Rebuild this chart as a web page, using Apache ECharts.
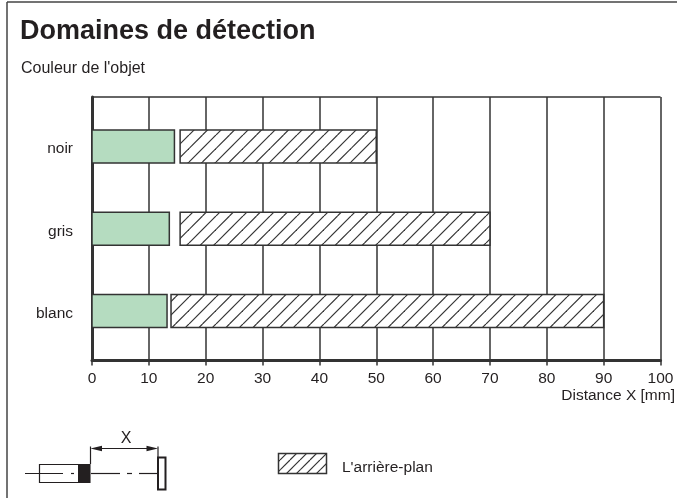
<!DOCTYPE html>
<html>
<head>
<meta charset="utf-8">
<script src="https://cdn.jsdelivr.net/npm/echarts@6/dist/echarts.min.js"></script>
<style>
  html, body { margin: 0; padding: 0; background: #fff; }
  #main { width: 677px; height: 498px; }
</style>
</head>
<body>
<div id="main"></div>
<script>
// data
const categories = ['blanc', 'gris', 'noir'];
const greenEnd = [13.2, 13.6, 14.5];
const hatchStart = [13.9, 15.5, 15.5];
const hatchEnd = [90, 70, 50];

const LINE = '#333333';
const TEXT = '#231f20';
const GREEN = '#b5dcc0';
const FONT = '"Liberation Sans", Arial, sans-serif';

// diagonal hatch tile, two lines per tile so half pixel spacings work
function hatchTile(step) {
  const size = step * 2;
  const c = document.createElement('canvas');
  c.width = size;
  c.height = size;
  const g = c.getContext('2d');
  g.fillStyle = '#fff';
  g.fillRect(0, 0, size, size);
  g.strokeStyle = LINE;
  g.lineWidth = 1.2;
  for (let k = -size; k <= size * 2; k += step) {
    g.beginPath();
    g.moveTo(k, size);
    g.lineTo(k + size, 0);
    g.stroke();
  }
  return { image: c, repeat: 'repeat' };
}
const hatch = hatchTile(13.5);
const hatchSmall = hatchTile(10);

function barItem(start, end, row, fill, api) {
  const a = api.coord([start, row]);
  const b = api.coord([end, row]);
  const h = 33;
  return {
    type: 'rect',
    shape: { x: a[0], y: a[1] - h / 2, width: b[0] - a[0], height: h },
    style: { fill: fill, stroke: LINE, lineWidth: 1.5 }
  };
}

const myChart = echarts.init(document.getElementById('main'), null, { renderer: 'canvas' });

const line = (x1, y1, x2, y2, w) => ({
  type: 'line',
  shape: { x1, y1, x2, y2 },
  style: { stroke: TEXT, lineWidth: w || 1.2 }
});
const label = (x, y, text, size, weight, align) => ({
  type: 'text',
  x, y,
  style: {
    text, fill: TEXT, font: (weight || 'normal') + ' ' + size + 'px ' + FONT,
    align: align || 'left', verticalAlign: 'middle'
  }
});

myChart.setOption({
  animation: false,
  backgroundColor: '#fff',
  grid: { left: 92, right: 16.5, top: 97, bottom: 137.5 },
  xAxis: {
    type: 'value',
    min: 0,
    max: 100,
    interval: 10,
    axisLine: { show: true, onZero: false, lineStyle: { color: LINE, width: 3 } },
    axisTick: { show: true, length: 5, lineStyle: { color: LINE, width: 1.5 } },
    axisLabel: { color: TEXT, fontSize: 15.5, fontFamily: FONT, margin: 10 },
    splitLine: { show: true, lineStyle: { color: LINE, width: 1.5 } }
  },
  yAxis: {
    type: 'value',
    min: -0.6,
    max: 2.6,
    axisLine: { show: true, onZero: false, lineStyle: { color: LINE, width: 3 } },
    axisTick: { show: false },
    splitLine: { show: false },
    axisLabel: {
      color: TEXT, fontSize: 15.5, fontFamily: FONT, margin: 19,
      // labels sit a little under the bar centres in the original
      customValues: categories.map((c, i) => i - 0.03),
      formatter: v => categories[Math.round(v)]
    }
  },
  series: [
    {
      // top edge of the plot
      type: 'custom',
      silent: true,
      data: [[0, 2.6, 100]],
      encode: { x: [0, 2], y: 1 },
      renderItem(params, api) {
        const a = api.coord([api.value(0), api.value(1)]);
        const b = api.coord([api.value(2), api.value(1)]);
        return { type: 'line', shape: { x1: a[0], y1: a[1], x2: b[0], y2: b[1] }, style: { stroke: LINE, lineWidth: 1.5 } };
      }
    },
    {
      name: 'detection',
      type: 'custom',
      silent: true,
      data: categories.map((c, i) => [i, greenEnd[i]]),
      encode: { x: 1, y: 0 },
      renderItem: (params, api) => barItem(0, api.value(1), api.value(0), GREEN, api)
    },
    {
      name: 'arriere-plan',
      type: 'custom',
      silent: true,
      data: categories.map((c, i) => [i, hatchStart[i], hatchEnd[i]]),
      encode: { x: [1, 2], y: 0 },
      renderItem: (params, api) => barItem(api.value(1), api.value(2), api.value(0), hatch, api)
    }
  ],
  graphic: [
    // frame, only top and left in the original
    { type: 'line', shape: { x1: 7, y1: 2, x2: 677, y2: 2 }, style: { stroke: '#444', lineWidth: 1.5 } },
    { type: 'line', shape: { x1: 7, y1: 2, x2: 7, y2: 498 }, style: { stroke: '#444', lineWidth: 1.5 } },
    label(20, 32, 'Domaines de détection', 27, 'bold'),
    label(21, 69, "Couleur de l'objet", 16),
    label(675, 396, 'Distance X [mm]', 15.5, 'normal', 'right'),
    // legend
    { type: 'rect', shape: { x: 278.5, y: 453.5, width: 48, height: 20 }, style: { fill: hatchSmall, stroke: LINE, lineWidth: 1.5 } },
    label(342, 468, "L'arrière-plan", 15.5),
    // sensor sketch
    line(25, 473.5, 63, 473.5),
    line(71, 473.5, 74, 473.5),
    line(91, 473.5, 120, 473.5),
    line(127, 473.5, 132, 473.5),
    line(139, 473.5, 157, 473.5),
    { type: 'rect', shape: { x: 39.5, y: 464.5, width: 50, height: 18 }, style: { fill: 'none', stroke: TEXT, lineWidth: 1.2 } },
    { type: 'rect', shape: { x: 78, y: 464, width: 12.5, height: 19 }, style: { fill: TEXT } },
    { type: 'rect', shape: { x: 158, y: 457.5, width: 7.5, height: 32 }, style: { fill: '#fff', stroke: TEXT, lineWidth: 2 } },
    line(90.5, 446.5, 90.5, 464),
    line(158, 446.5, 158, 457),
    line(95, 448.5, 153, 448.5),
    { type: 'polygon', shape: { points: [[90.5, 448.5], [102, 445.8], [102, 451.2]] }, style: { fill: TEXT } },
    { type: 'polygon', shape: { points: [[158, 448.5], [146.5, 445.8], [146.5, 451.2]] }, style: { fill: TEXT } },
    label(126, 439, 'X', 16, 'normal', 'center')
  ]
});
</script>
</body>
</html>
